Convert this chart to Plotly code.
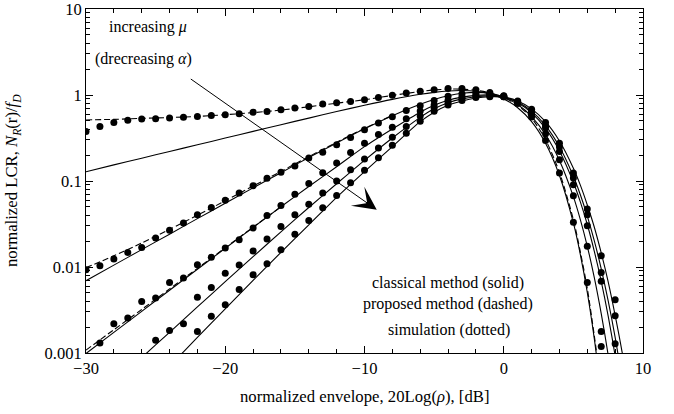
import plotly.graph_objects as go

# ---------------- data ----------------
# common abscissa grid for the analytical curves (dB)
SX = [-30, -28, -26, -24, -22, -20, -18, -16, -14, -12, -10, -8, -6,
      -5, -4, -3, -2, -1, 0, 1, 2, 3, 4,
      5, 5.5, 6, 6.5, 7, 7.5, 8, 8.5, 9]

# classical method (solid), five parameter sets (increasing mu / decreasing alpha)
SOLID_A = [0.1282, 0.1540, 0.1843, 0.2206, 0.2639, 0.3157, 0.3777, 0.4514, 0.5389, 0.6415, 0.7597, 0.8896, 1.018,
           1.073, 1.112, 1.126, 1.104, 1.031, 0.899, 0.711, 0.490, 0.275, 0.116,
           0.0325, 0.01396, 0.00505, 0.001476, 0.000337, None, None, None, None]
SOLID_B = [0.00693, 0.01052, 0.01592, 0.0241, 0.0365, 0.0551, 0.0832, 0.1250, 0.1871, 0.2773, 0.4046, 0.5754, 0.7798,
           0.885, 0.9795, 1.047, 1.074, 1.045, 0.944, 0.774, 0.562, 0.347, 0.1734,
           0.0658, 0.0356, 0.0174, 0.00757, 0.00287, 0.000942, 0.000258, None, None]
SOLID_C = [0.000986, 0.001738, 0.00305, 0.00537, 0.00942, 0.01652, 0.02884, 0.0501, 0.0863, 0.1466, 0.2512, 0.4027, 0.631,
           0.7586, 0.871, 0.944, 0.989, 1.0, 0.944, 0.811, 0.619, 0.409, 0.2239,
           0.0968, 0.0571, 0.0312, 0.01531, 0.00681, 0.002685, 0.000927, 0.000274, None]
SOLID_D = [0.000225, 0.000446, 0.000885, 0.001738, 0.00343, 0.00675, 0.01318, 0.02564, 0.0492, 0.0929, 0.1738, 0.3162, 0.5495,
           0.6918, 0.8128, 0.9016, 0.955, 0.977, 0.944, 0.830, 0.649, 0.440, 0.250,
           0.1135, 0.0692, 0.0391, 0.02023, 0.00953, 0.004027, 0.001517, 0.000497, 0.000141]
SOLID_E = [0.000069, 0.000150, 0.000327, 0.000702, 0.001517, 0.003266, 0.00698, 0.01479, 0.0309, 0.0646, 0.1288, 0.2512, 0.4898,
           0.631, 0.7586, 0.851, 0.9226, 0.955, 0.944, 0.853, 0.690, 0.489, 0.2917,
           0.1406, 0.0895, 0.0526, 0.02917, 0.01456, 0.00673, 0.00274, 0.001023, 0.000324]

# proposed method (dashed) - visible where it departs from the classical curve
DASH_A_X = [-30, -28, -26, -24, -22, -20, -18, -16, -14, -12, -10, -8, -6,
            -5, -4, -3, -2, -1, 0, 1, 2, 3, 4, 5, 5.5, 6, 6.5, 7]
DASH_A = [0.5129, 0.5212, 0.5346, 0.5470, 0.5636, 0.5902, 0.6237, 0.6683, 0.7295, 0.8035, 0.881, 0.9886, 1.0965,
          1.143, 1.1695, 1.1695, 1.135, 1.059, 0.933, 0.7586, 0.537, 0.302, 0.1259, 0.0355, 0.0150, 0.00562, 0.0016, 0.000398]
DASH_B_X = [-30, -28, -26, -24, -22, -20, -18, -16, -14, -12, -10, -8]
DASH_B = [0.009817, 0.01349, 0.01905, 0.02742, 0.03999, 0.05888, 0.0873, 0.1294, 0.1919, 0.2825, 0.4093, 0.5808]
DASH_C_X = [-30, -28, -26, -24, -22, -20, -18, -16]
DASH_C = [0.001081, 0.001862, 0.003206, 0.005559, 0.00964, 0.01675, 0.02904, 0.0501]

# simulation (dotted)
SIM_A_X = list(range(-30, 8))
SIM_A = [0.3776, 0.4315, 0.4797, 0.507, 0.526, 0.530, 0.541, 0.5495, 0.5636, 0.579, 0.590, 0.607, 0.631,
         0.644, 0.6745, 0.706, 0.736, 0.785, 0.813, 0.843, 0.881, 0.938, 0.995, 1.054, 1.109,
         1.153, 1.189, 1.194, 1.148, 1.067, 0.966, 0.80, 0.5546, 0.2965, 0.1239, 0.03304, 0.00662, 0.001194]
SIM_B_X = list(range(-30, 8))
SIM_B = [0.009311, 0.01035, 0.01239, 0.01479, 0.01690, 0.02173, 0.02667, 0.03251, 0.04055, 0.04920, 0.05970, 0.07261,
         0.08810, 0.1076, 0.1265, 0.1493, 0.1849, 0.2163, 0.2642, 0.3199, 0.3954, 0.4721, 0.5598, 0.6622,
         0.7499, 0.861, 0.966, 1.035, 1.072, 1.035, 0.977, 0.8035, 0.5957, 0.3548, 0.1770, 0.06745, 0.01738, 0.001782]
SIM_C_X = list(range(-29, 9))
SIM_C = [0.001306, 0.002193, 0.002553, 0.003981, 0.004365, 0.006622, 0.007447, 0.01064, 0.01294, 0.01660, 0.02075,
         0.02838, 0.03981, 0.05188, 0.06998, 0.09333, 0.1245, 0.1622, 0.2138, 0.2754, 0.3467, 0.4217, 0.5309,
         0.6531, 0.7674, 0.871, 0.955, 1.012, 1.0, 0.966, 0.8222, 0.6383, 0.4169, 0.2208, 0.09057, 0.0302, 0.006808, 0.001282]
SIM_D_X = list(range(-25, 9))
SIM_D = [0.001403, 0.001832, 0.002193, 0.004436, 0.005794, 0.008472, 0.01054, 0.01538, 0.02118, 0.02965, 0.04055,
         0.0537, 0.07244, 0.1, 0.1349, 0.1799, 0.2427, 0.3236, 0.4315, 0.5689, 0.7079, 0.8128, 0.912, 0.966,
         0.977, 0.955, 0.8356, 0.6457, 0.4395, 0.2483, 0.1084, 0.04055, 0.00865, 0.002716]
SIM_E_X = list(range(-22, 9))
SIM_E = [0.001782, 0.002667, 0.003639, 0.005458, 0.008128, 0.01091, 0.01589, 0.02399, 0.03467, 0.04898, 0.06761,
         0.0955, 0.1334, 0.1862, 0.26, 0.3589, 0.4955, 0.6457, 0.7674, 0.861, 0.9333, 0.955, 0.955, 0.851,
         0.6839, 0.4786, 0.2754, 0.1239, 0.04721, 0.01352, 0.004169]

# axes ticks
X_TICKS = [-30, -20, -10, 0, 10]
X_TICK_TEXT = ["\u221230", "\u221220", "\u221210", "0", "10"]
X_MINOR = [-28, -26, -24, -22, -18, -16, -14, -12, -8, -6, -4, -2, 2, 4, 6, 8]
Y_TICKS = [0.001, 0.01, 0.1, 1, 10]
Y_TICK_TEXT = ["0.001", "0.01", "0.1", "1", "10"]
Y_MINOR = [m * d for d in (0.001, 0.01, 0.1, 1) for m in range(2, 10)]

# arrow of the annotation "increasing mu": tail and tip (x in dB, y as log10)
ARROW_TAIL = (-22.58, 0.198)
ARROW_TIP = (-9.12, -1.334)

FONT = "Liberation Serif"

fig = go.Figure()

for ys in (SOLID_A, SOLID_B, SOLID_C, SOLID_D, SOLID_E):
    fig.add_trace(go.Scatter(x=SX, y=ys, mode="lines",
                             line=dict(color="black", width=1.1, shape="spline", smoothing=0.8),
                             connectgaps=False, hoverinfo="skip"))

for xs, ys in ((DASH_A_X, DASH_A), (DASH_B_X, DASH_B), (DASH_C_X, DASH_C)):
    fig.add_trace(go.Scatter(x=xs, y=ys, mode="lines",
                             line=dict(color="black", width=1.1, dash="6px,3px", shape="spline", smoothing=0.8),
                             hoverinfo="skip"))

for xs, ys in ((SIM_A_X, SIM_A), (SIM_B_X, SIM_B), (SIM_C_X, SIM_C), (SIM_D_X, SIM_D), (SIM_E_X, SIM_E)):
    fig.add_trace(go.Scatter(x=xs, y=ys, mode="markers",
                             marker=dict(color="black", size=7, line=dict(width=0)),
                             hoverinfo="skip"))

axis_common = dict(showline=True, linecolor="black", linewidth=1, mirror="allticks",
                   ticks="inside", ticklen=7, tickwidth=1, tickcolor="black",
                   showgrid=False, zeroline=False, automargin=False,
                   ticklabeloverflow="allow",
                   tickfont=dict(family=FONT, size=16.5, color="black"))

fig.update_xaxes(range=[-30, 10], tickmode="array", tickvals=X_TICKS, ticktext=X_TICK_TEXT,
                 minor=dict(tickmode="array", tickvals=X_MINOR, ticks="inside", ticklen=4,
                            tickwidth=1, tickcolor="black", showgrid=False),
                 **axis_common)
fig.update_yaxes(type="log", range=[-3, 1], tickmode="array", tickvals=Y_TICKS, ticktext=Y_TICK_TEXT,
                 minor=dict(tickmode="array", tickvals=Y_MINOR, ticks="inside", ticklen=4,
                            tickwidth=1, tickcolor="black", showgrid=False),
                 **axis_common)

txt = dict(family=FONT, size=16, color="black")
title_font = dict(family=FONT, size=16.7, color="black")
annotations = [
    dict(text="increasing <i>\u03bc</i>", x=0.111, y=0.9485, xref="paper", yref="paper",
         showarrow=False, font=txt, xanchor="center", yanchor="middle"),
    dict(text="(drecreasing <i>\u03b1</i>)", x=0.104, y=0.8555, xref="paper", yref="paper",
         showarrow=False, font=txt, xanchor="center", yanchor="middle"),
    dict(text="classical method (solid)", x=0.650, y=0.204, xref="paper", yref="paper",
         showarrow=False, font=txt, xanchor="center", yanchor="middle"),
    dict(text="proposed method (dashed)", x=0.650, y=0.143, xref="paper", yref="paper",
         showarrow=False, font=txt, xanchor="center", yanchor="middle"),
    dict(text="simulation (dotted)", x=0.651, y=0.0677, xref="paper", yref="paper",
         showarrow=False, font=txt, xanchor="center", yanchor="middle"),
    dict(text="normalized envelope, 20Log(<i>\u03c1</i>), [dB]", x=0.5, y=-0.127, xref="paper", yref="paper",
         showarrow=False, font=title_font, xanchor="center", yanchor="middle"),
    dict(text="normalized LCR, <i>N<sub>R</sub></i>(r)/<i>f<sub>D</sub></i>", x=-0.131, y=0.5,
         xref="paper", yref="paper", textangle=-90,
         showarrow=False, font=title_font, xanchor="center", yanchor="middle"),
    dict(text="", x=ARROW_TIP[0], y=ARROW_TIP[1], xref="x", yref="y",
         ax=ARROW_TAIL[0], ay=ARROW_TAIL[1], axref="x", ayref="y",
         showarrow=True, arrowhead=3, arrowsize=3.9, arrowwidth=1, arrowcolor="black", standoff=0),
]

fig.update_layout(width=674, height=414, margin=dict(l=86, r=31, t=9, b=61, autoexpand=False),
                  paper_bgcolor="white", plot_bgcolor="white", showlegend=False,
                  annotations=annotations, font=dict(family=FONT, color="black"))

fig.write_html("out.html", config={"displayModeBar": False, "staticPlot": True},
               post_script="document.body.style.margin='0';document.body.style.overflow='hidden';")
